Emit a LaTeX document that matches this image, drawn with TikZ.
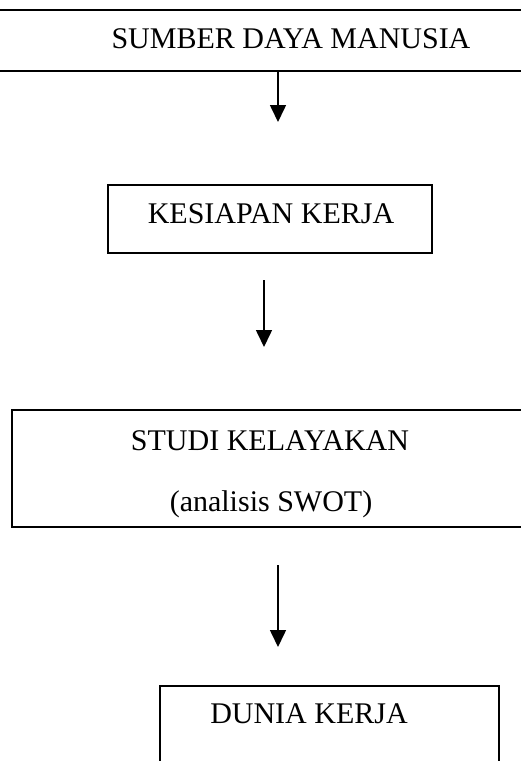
\documentclass[tikz,border=0pt]{standalone}
\usepackage{fontspec}
\setmainfont{Liberation Serif}
\usetikzlibrary{arrows.meta, positioning}

\begin{document}
\begin{tikzpicture}[
    x=1pt, y=-1pt,
    box/.style={rectangle, draw, line width=1.3pt, inner sep=0pt},
    label/.style={font=\fontsize{30}{36}\selectfont, inner sep=0pt, anchor=base},
    arrow/.style={-{Triangle[width=16pt, length=17pt]}, line width=1.6pt}
]
\useasboundingbox (0,0) rectangle (521,761);
\clip (0,0) rectangle (521,761);

% Boxes
\node[box, minimum width=600pt, minimum height=61pt] (sdm) at (260,40.5) {};
\node[box, minimum width=324pt, minimum height=68pt] (kesiapan) at (270,219) {};
\node[box, minimum width=528pt, minimum height=117pt] (studi) at (276,468.5) {};
\node[box, minimum width=339pt, minimum height=104pt] (dunia) at (329.5,738) {};

% Texts
\node[label] (sdmtext) at (291,48) {SUMBER DAYA MANUSIA};
\node[label] (kesiapantext) at (271,223) {KESIAPAN KERJA};
\node[label] (studitext) at (270,450) {STUDI KELAYAKAN};
\node[label] (swottext) at (271,511) {(analisis SWOT)};
\node[label] (duniatext) at (309,723) {DUNIA KERJA};

% Arrow ends
\coordinate (tip1) at (278,122);
\coordinate (start2) at (264,280);
\coordinate (tip2) at (264,347);
\coordinate (start3) at (278,565);
\coordinate (tip3) at (278,647);

% Arrows
\draw[arrow] (sdm.south -| tip1) -- (tip1);
\draw[arrow] (start2) -- (tip2);
\draw[arrow] (start3) -- (tip3);

\end{tikzpicture}
\end{document}
